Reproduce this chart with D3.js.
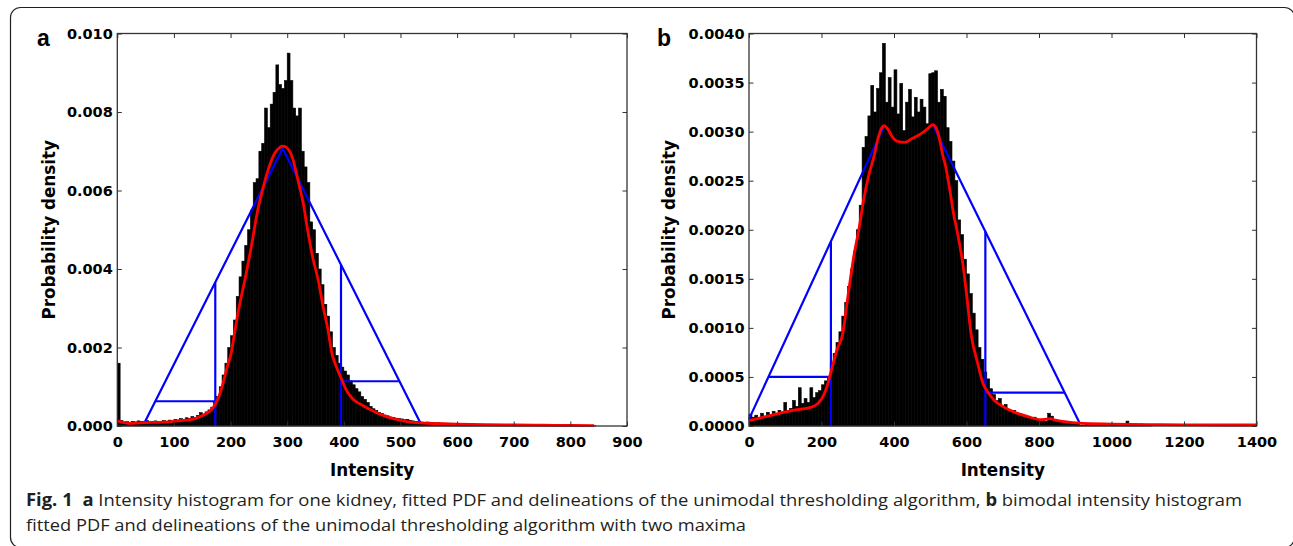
<!DOCTYPE html>
<html>
<head>
<meta charset="utf-8">
<script src="https://d3js.org/d3.v7.min.js"></script>
<title>Fig. 1 intensity histograms</title>
<style>
body { margin: 0; background: #fff; }
svg { display: block; }
.ax text { font-family: 'DejaVu Sans', sans-serif; font-weight: bold; font-size: 14.5px; fill: #000; }
.ax line { stroke: #333; stroke-width: 1; }
.axis-title { font-family: 'DejaVu Sans', sans-serif; font-weight: bold; font-size: 16.8px; fill: #000; }
.tag { font-family: 'Liberation Sans', Arial, sans-serif; font-weight: bold; font-size: 23px; fill: #000; }
.caption { font-family: 'Open Sans', sans-serif; font-size: 17px; fill: #231f20; }
.caption .b { font-weight: bold; }
</style>
</head>
<body>
<svg id="fig" width="1293" height="546"></svg>
<script>
// densities are typed in units of 1e-4
const UNIT = 1e-4;

// panel a: histogram bins (width 5, starting at 0)
const histABin = 5;
const histA = [
  16, 1.4, 1.0, 1.1, 0.9, 1.2, 1.0, 1.3, 1.1, 1.2,
  1.4, 1.1, 1.0, 1.3, 1.2, 1.1, 1.4, 1.2, 1.5, 1.3,
  1.7, 1.5, 1.9, 1.7, 2.1, 1.9, 2.4, 2.1, 2.7, 3.4,
  3.0, 3.6, 4.1, 4.8, 6.0, 7.5, 10, 13, 16, 20,
  23, 27, 33, 38, 42, 46, 50, 55, 62, 63,
  70, 72, 81, 76, 82, 85, 92, 87, 86, 88,
  95, 88, 81, 79, 81, 70, 66, 62, 52, 50,
  44, 40, 36, 31, 28, 24, 20, 18, 16, 15,
  14, 13, 11.5, 10.5, 9.5, 8.7, 7.5, 6.8, 6.0, 5.0,
  4.4, 4.0, 3.5, 3.2, 2.8, 2.6, 2.3, 2.2, 2.0, 1.9,
  1.8, 1.6, 1.7, 1.4, 1.3, 1.2, 1.1, 1.0, 0.9, 1.0,
  0.8, 0.9, 0.7, 0.8, 0.6, 0.7, 0.6, 0.5, 0.6, 0.5,
  0.4, 0.5, 0.4, 0.4, 0.3, 0.3, 0.4, 0.2, 0.3, 0.2,
  0.3, 0.2, 0.2, 0.3, 0.1, 0.2, 0.2, 0.1, 0.2, 0.1,
  0.2, 0.1, 0.1, 0.2, 0.1, 0.1, 0.1, 0.2, 0.1, 0.1,
  0.05, 0.1, 0.1, 0.05, 0.1, 0.05, 0.1, 0.05, 0.05, 0.1,
  0.05, 0.05, 0.1, 0.05, 0.05, 0.05, 0.1, 0.05, 0.05
];
// fitted PDF [intensity, density]
const pdfA = [
  [0, 1.3], [10, 0.9], [20, 0.7], [40, 0.8], [60, 0.9], [80, 1.0], [100, 1.2],
  [120, 1.5], [140, 2.0], [152, 2.8], [162, 3.6], [170, 4.8], [178, 7.0],
  [186, 10.5], [194, 15], [201, 18.5], [208, 24.5], [216, 31], [225, 37],
  [237, 46], [248, 55], [258, 61], [268, 66], [278, 69.5], [287, 71], [293, 71.3],
  [300, 70.8], [310, 68], [320, 62], [328, 57], [336, 50], [345, 43], [355, 37],
  [364, 30], [372, 24.5], [379, 18.5], [387, 15], [395, 12.3], [405, 9], [415, 7],
  [430, 5.5], [445, 4.3], [456, 3.5], [475, 2.4], [495, 1.6], [517, 1.0],
  [550, 0.7], [600, 0.5], [650, 0.35], [700, 0.25], [750, 0.2], [800, 0.15], [842, 0.1]
];
// thresholding delineations
const triA = [[[48, 0.8], [292, 70.7], [535, 0.8]]];
const cutsA = [
  [[173, 0], [173, 36.6]], [[67, 6.3], [173, 6.3]],
  [[395, 0], [395, 41.1]], [[395, 11.4], [497, 11.4]]
];
const xTicksA = [0, 100, 200, 300, 400, 500, 600, 700, 800, 900];
const yTicksA = [0, 0.002, 0.004, 0.006, 0.008, 0.010];

// panel b: histogram bins (width 8, starting at 0)
const histBBin = 8;
const histB = [
  1.2, 0.9, 1.1, 0.8, 1.3, 1.0, 1.4, 1.1, 1.5, 1.2,
  1.6, 1.3, 2.4, 1.5, 1.8, 2.6, 2.0, 3.9, 2.3, 2.8,
  2.4, 3.9, 2.9, 3.4, 3.6, 4.2, 4.6, 5.0, 6.4, 7.4,
  8.5, 9.6, 11.2, 12.6, 14.2, 16.0, 17.8, 20.0, 22.5, 28.4,
  29.5, 31.6, 34.7, 32.0, 34.4, 36.0, 39.0, 33.0, 35.5, 32.5,
  36.3, 31.8, 34.9, 30.1, 33.0, 34.3, 31.5, 33.5, 32.0, 33.3,
  32.5, 30.8, 35.9, 36.0, 36.2, 33.0, 34.3, 33.6, 30.4, 29.0,
  27.0, 25.0, 21.0, 19.5, 17.0, 15.5, 13.5, 11.5, 9.8, 8.0,
  6.8, 5.5, 4.8, 3.8, 3.2, 2.6, 2.8, 2.0, 2.2, 1.7,
  1.5, 1.6, 1.2, 1.3, 1.0, 1.1, 0.9, 0.8, 0.9, 0.7,
  0.6, 0.7, 0.5, 1.3, 1.0, 0.6, 0.5, 0.4, 0.5, 0.3,
  0.4, 0.3, 0.3, 0.2, 0.1, 0.1, 0.2, 0.1, 0.1, 0.1,
  0.2, 0.1, 0.2, 0.1, 0.1, 0.2, 0.1, 0.1, 0.2, 0.1,
  0.5, 0.2, 0.1, 0.2, 0.1, 0.2, 0.1, 0.1, 0.1
];
const pdfB = [
  [0, 0.55], [40, 0.9], [73, 1.2], [120, 1.6], [170, 1.9], [190, 2.3], [204, 3.0],
  [215, 4.0], [226, 5.5], [243, 7.8], [258, 9.3], [274, 13.5], [290, 17.5],
  [303, 20], [316, 23], [330, 25.5], [345, 27.5], [356, 29.3], [366, 30.4],
  [373, 30.6], [382, 30.3], [395, 29.5], [410, 29.0], [429, 28.9], [450, 29.3],
  [475, 29.8], [493, 30.3], [507, 30.7], [517, 30.3], [527, 29], [535, 27.5],
  [541, 26.7], [552, 24.5], [565, 21.5], [574, 19.9], [590, 16.5], [600, 13.5],
  [613, 9.3], [630, 6.5], [647, 4.2], [660, 3.4], [677, 2.6], [700, 2.0],
  [735, 1.36], [770, 0.95], [803, 0.65], [820, 0.7], [832, 0.75], [845, 0.6],
  [870, 0.45], [910, 0.29], [1000, 0.2], [1100, 0.15], [1200, 0.12], [1300, 0.1], [1400, 0.1]
];
const triB = [[[0, 0.7], [373, 30.6]], [[507, 30.7], [912, 0.3]]];
const cutsB = [
  [[226, 0], [226, 18.8]], [[55, 5.0], [226, 5.0]],
  [[652, 0], [652, 19.8]], [[652, 3.4], [871, 3.4]]
];
const xTicksB = [0, 200, 400, 600, 800, 1000, 1200, 1400];
const yTicksB = [0, 0.0005, 0.001, 0.0015, 0.002, 0.0025, 0.003, 0.0035, 0.004];

const svg = d3.select("#fig");

// rounded figure frame
svg.append("rect")
    .attr("x", 10.5).attr("y", 7.5)
    .attr("width", 1284).attr("height", 540)
    .attr("rx", 10)
    .attr("fill", "none")
    .attr("stroke", "#231f20")
    .attr("stroke-width", 1.2);

function panel(o) {
  const x = d3.scaleLinear().domain(o.xDomain).range([o.left, o.right]);
  const y = d3.scaleLinear().domain(o.yDomain).range([o.bottom, o.top]);
  const g = svg.append("g");

  // bars get a hairline black edge so neighbours merge into one solid mass
  g.append("g").selectAll("rect")
    .data(o.hist)
    .join("rect")
      .attr("x", (d, i) => x(i * o.bin))
      .attr("width", (d, i) => x((i + 1) * o.bin) - x(i * o.bin))
      .attr("y", d => y(d * UNIT))
      .attr("height", d => y(0) - y(d * UNIT))
      .attr("fill", "#000")
      .attr("stroke", "#000")
      .attr("stroke-width", 0.6);

  const line = d3.line().x(d => x(d[0])).y(d => y(d[1] * UNIT));

  g.append("g").selectAll("path")
    .data(o.tri.concat(o.cuts))
    .join("path")
      .attr("d", line)
      .attr("fill", "none")
      .attr("stroke", "#0000ff")
      .attr("stroke-width", 2.2);

  g.append("path")
      .datum(o.pdf)
      .attr("d", line.curve(d3.curveMonotoneX))
      .attr("fill", "none")
      .attr("stroke", "#ff0000")
      .attr("stroke-width", 2.8);

  // axes, ticks inward on all four sides
  const tk = 4.5;
  const fmt = d3.format(o.fmt);
  const axes = [
    [d3.axisBottom(x).tickValues(o.xTicks).tickFormat(d3.format("d")).tickPadding(11), `translate(0,${o.bottom})`],
    [d3.axisTop(x).tickValues(o.xTicks).tickFormat(""), `translate(0,${o.top})`],
    [d3.axisLeft(y).tickValues(o.yTicks).tickFormat(fmt).tickPadding(4.5), `translate(${o.left},0)`],
    [d3.axisRight(y).tickValues(o.yTicks).tickFormat(""), `translate(${o.right},0)`]
  ];
  axes.forEach(([ax, tr]) => {
    const a = g.append("g").attr("class", "ax").attr("transform", tr)
      .call(ax.tickSizeInner(-tk).tickSizeOuter(0));
    a.select(".domain").remove();
    a.attr("font-family", null).attr("font-size", null);
  });

  g.append("rect")
      .attr("x", o.left).attr("y", o.top)
      .attr("width", o.right - o.left).attr("height", o.bottom - o.top)
      .attr("fill", "none")
      .attr("stroke", "#333")
      .attr("stroke-width", 1.3);

  g.append("text")
      .attr("class", "axis-title")
      .attr("x", (o.left + o.right) / 2).attr("y", 476)
      .attr("text-anchor", "middle")
      .text("Intensity");

  g.append("text")
      .attr("class", "axis-title")
      .attr("transform", `translate(${o.ylabX},${(o.top + o.bottom) / 2}) rotate(-90)`)
      .attr("text-anchor", "middle")
      .text("Probability density");

  g.append("text")
      .attr("class", "tag")
      .attr("x", o.tagX).attr("y", 46)
      .text(o.tag);
}

panel({
  tag: "a", tagX: 37, ylabX: 55,
  left: 117.3, right: 627, top: 33.5, bottom: 426,
  xDomain: [0, 900], yDomain: [0, 0.010], fmt: ".3f",
  xTicks: xTicksA, yTicks: yTicksA,
  hist: histA, bin: histABin, pdf: pdfA, tri: triA, cuts: cutsA
});

panel({
  tag: "b", tagX: 657, ylabX: 675,
  left: 749, right: 1256.5, top: 33.5, bottom: 426,
  xDomain: [0, 1400], yDomain: [0, 0.004], fmt: ".4f",
  xTicks: xTicksB, yTicks: yTicksB,
  hist: histB, bin: histBBin, pdf: pdfB, tri: triB, cuts: cutsB
});

// caption
const cap = svg.append("g").attr("class", "caption");
const l1 = cap.append("text").attr("x", 26).attr("y", 505.5)
    .attr("textLength", 1216).attr("lengthAdjust", "spacingAndGlyphs");
l1.append("tspan").attr("class", "b").text("Fig. 1");
l1.append("tspan").attr("class", "b").attr("dx", 9).text("a");
l1.append("tspan").text(" Intensity histogram for one kidney, fitted PDF and delineations of the unimodal thresholding algorithm, ");
l1.append("tspan").attr("class", "b").text("b");
l1.append("tspan").text(" bimodal intensity histogram");

cap.append("text").attr("x", 26).attr("y", 531)
    .attr("textLength", 720).attr("lengthAdjust", "spacingAndGlyphs")
    .text("fitted PDF and delineations of the unimodal thresholding algorithm with two maxima");
</script>
</body>
</html>
